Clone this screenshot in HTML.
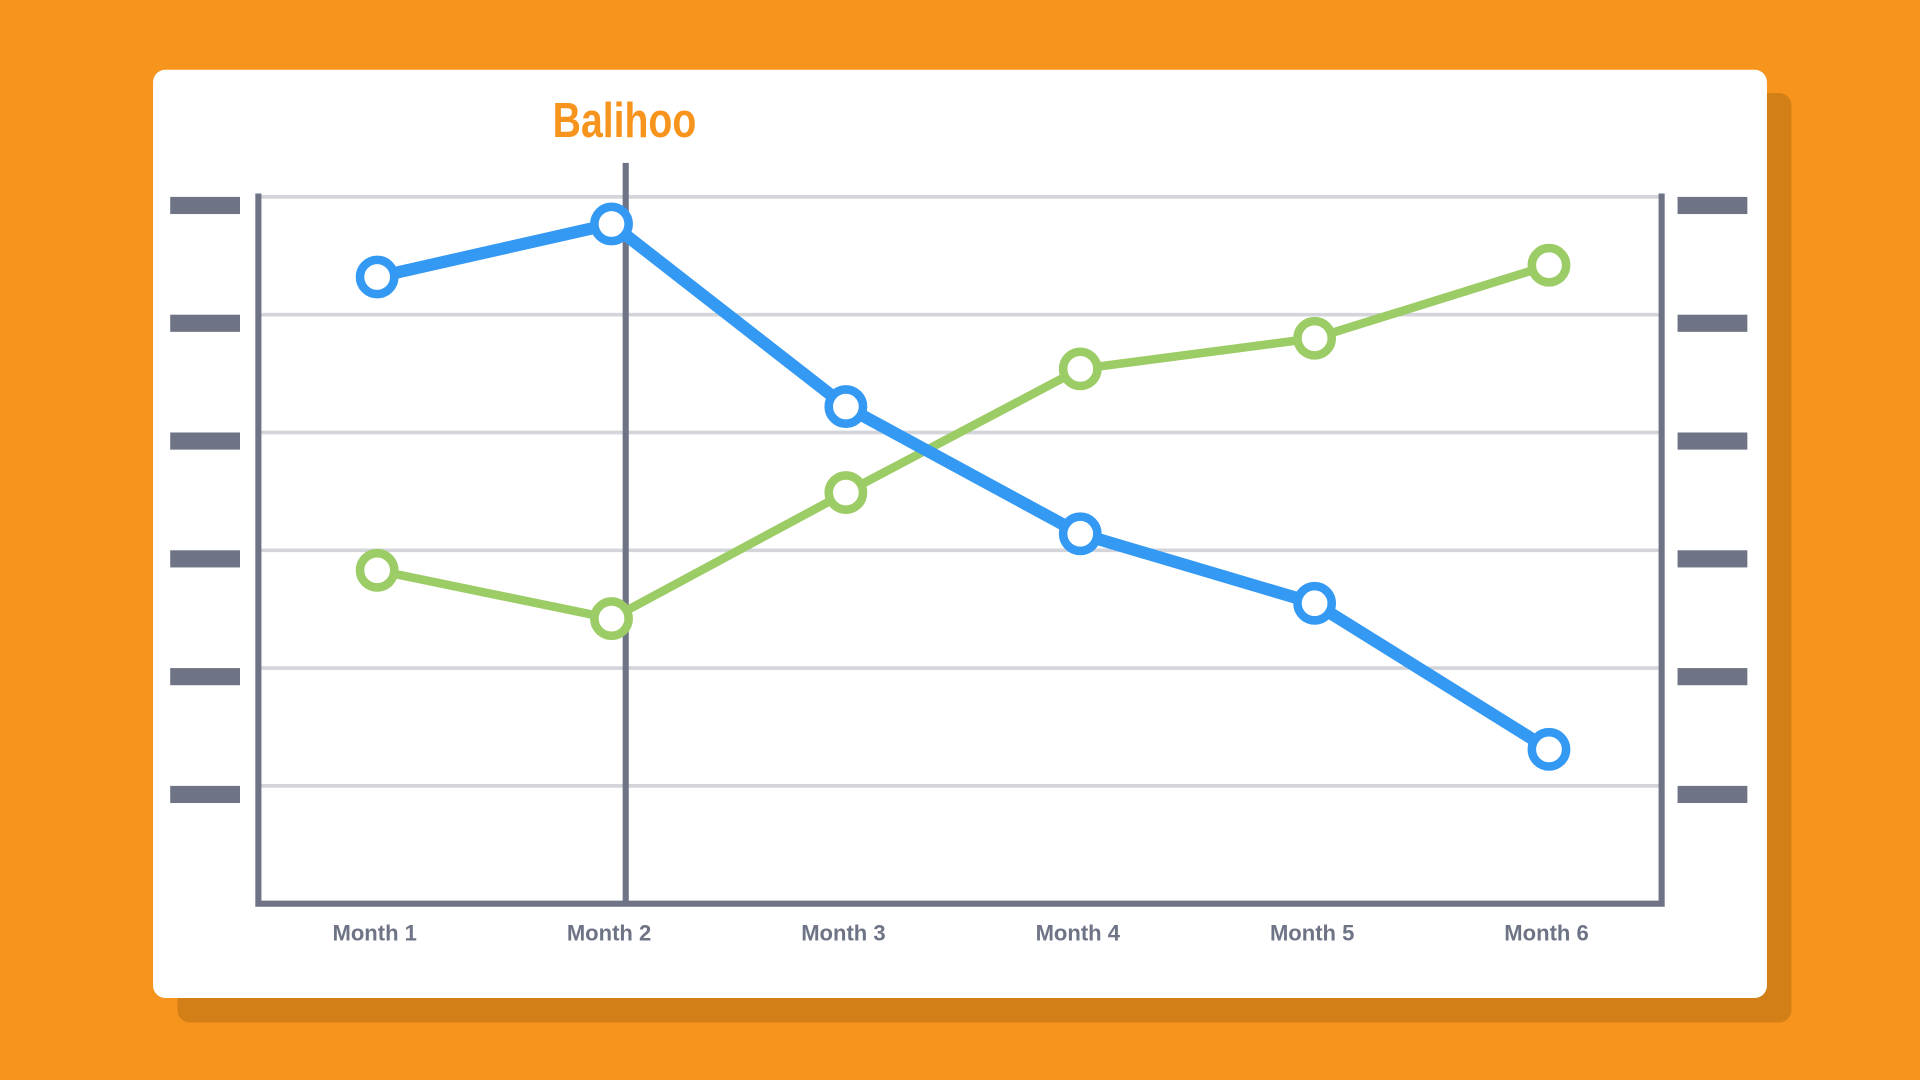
<!DOCTYPE html>
<html><head><meta charset="utf-8"><style>
html,body{margin:0;padding:0;width:1920px;height:1080px;overflow:hidden;background:#f7941d}
svg{display:block}
</style></head><body>
<svg id="chart" width="1920" height="1080" viewBox="0 0 1568 882" xmlns="http://www.w3.org/2000/svg">
<rect x="0" y="0" width="1568" height="882" fill="#f7941d"/>
<rect x="145" y="76" width="1318" height="759" rx="10" fill="#d17f16"/>
<rect x="125" y="57" width="1318" height="758" rx="10" fill="#ffffff"/>
<text x="510" y="112" text-anchor="middle" font-family="'Liberation Sans Narrow','Liberation Sans',sans-serif" font-weight="bold" font-size="40" fill="#f7941d" transform="translate(510,0) scale(0.8,1) translate(-510,0)">Balihoo</text>
<g id="grid"></g>
<g id="ticks"></g>
<line x1="511" y1="133" x2="511" y2="738" stroke="#6e7485" stroke-width="5"/>
<path d="M211 158 V738 H1357 V158" fill="none" stroke="#6e7485" stroke-width="5"/>
<g id="labels"></g>
<g id="series"></g>
</svg>
<script>
const categories = ["Month 1","Month 2","Month 3","Month 4","Month 5","Month 6"];
const blueValues = [5.32, 5.77, 4.22, 3.14, 2.55, 1.31];
const greenValues = [2.83, 2.42, 3.49, 4.54, 4.80, 5.42];
const gridValues = [1, 2, 3, 4, 5, 6];

const NS = "http://www.w3.org/2000/svg";
function yScale(v){ return 738 - v * 96.2; }
function xScale(i){ return 308 + i * 191.4; }
function mk(tag, attrs, parent){
  const el = document.createElementNS(NS, tag);
  for (const k in attrs) el.setAttribute(k, attrs[k]);
  parent.appendChild(el);
  return el;
}
const grid = document.getElementById('grid');
const ticks = document.getElementById('ticks');
gridValues.forEach(function(v){
  const y = yScale(v);
  const gl = mk('line', {x1:213, x2:1355, y1:y, y2:y, stroke:'#d3d5da', 'stroke-width':3}, grid);
  
  
  const tl = mk('rect', {x:139, y:y, width:57, height:14, fill:'#6e7485'}, ticks);
  
  
  const tr = mk('rect', {x:1370, y:y, width:57, height:14, fill:'#6e7485'}, ticks);
  
  
});
const labels = document.getElementById('labels');
categories.forEach(function(c, i){
  const t = mk('text', {x:xScale(i)-2, y:768, 'text-anchor':'middle', 'font-family':"'Liberation Sans',sans-serif", 'font-weight':'bold', 'font-size':18, fill:'#6e7485'}, labels);
  t.textContent = c;
  
  
});
const series = document.getElementById('series');
function drawSeries(vals, color, width, name){
  const pts = vals.map(function(v,i){ return xScale(i)+','+yScale(v); }).join(' ');
  const pl = mk('polyline', {points:pts, fill:'none', stroke:color, 'stroke-width':width, 'stroke-linejoin':'round'}, series);
  
  
  vals.forEach(function(v,i){
    const c = mk('circle', {cx:xScale(i), cy:yScale(v), r:14, fill:'#ffffff', stroke:color, 'stroke-width':7}, series);
    
    
  });
}
drawSeries(greenValues, '#9ccc65', 7, 'green-series');
drawSeries(blueValues, '#3399f3', 10, 'blue-series');
</script>
</body></html>
